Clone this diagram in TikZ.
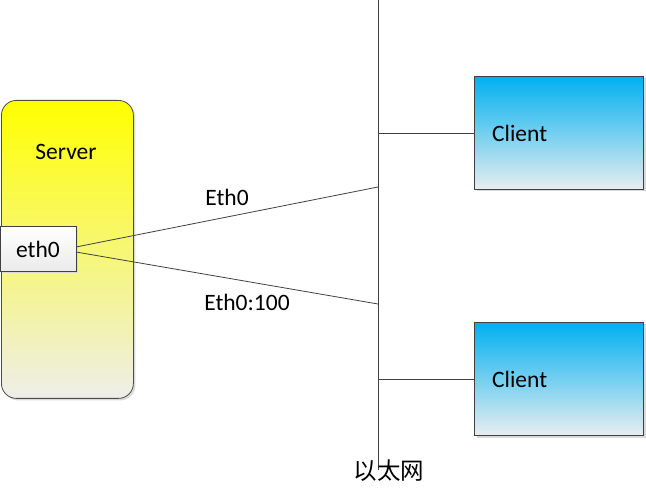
\documentclass[tikz,border=0pt]{standalone}
\usepackage{fontspec}
\setmainfont{Carlito}
\newfontfamily\cjk{Noto Sans CJK SC}
\usetikzlibrary{shadows}
\begin{document}
\begin{tikzpicture}[x=1pt,y=-1pt,
  lbl/.style={font=\fontsize{23.5}{26}\selectfont, inner sep=0pt},
  conn/.style={draw=black!75, line width=0.8pt},
  clientbox/.style={draw=black!75, line width=1pt, top color={rgb,255:red,0;green,176;blue,240}, bottom color={rgb,255:red,232;green,238;blue,240}, minimum width=169pt, minimum height=113pt, anchor=north west, inner sep=0pt, drop shadow={shadow xshift=2pt, shadow yshift=-2pt, fill=black!15, opacity=1}},
  serverbox/.style={draw=black!70, line width=0.8pt, rounded corners=15pt, top color={rgb,255:red,255;green,255;blue,0}, bottom color={rgb,255:red,238;green,238;blue,234}, minimum width=132pt, minimum height=298pt, anchor=north west, inner sep=0pt, drop shadow={shadow xshift=2pt, shadow yshift=-2pt, fill=black!15, opacity=1}},
  ethbox/.style={draw=black!75, line width=0.8pt, top color=white, bottom color=black!8, minimum width=76pt, minimum height=45pt, anchor=north west, inner sep=0pt, drop shadow={shadow xshift=1.5pt, shadow yshift=-1.5pt, fill=black!15, opacity=1}}]
\useasboundingbox (0,0) rectangle (646,489);
% server
\node[serverbox] (server) at (1,100) {};
\node[lbl] (servertxt) at (66,152) {Server};
\node[ethbox] (eth) at (0,226) {};
\node[lbl] (ethtxt) at (38,249) {eth0};
% clients
\node[clientbox] (c1) at (474,76) {};
\node[lbl, anchor=west] (c1txt) at (492,133) {Client};
\node[clientbox] (c2) at (474,322) {};
\node[lbl, anchor=west] (c2txt) at (492,379) {Client};
% bus
\coordinate (bustop) at (378,0);
\coordinate (busbot) at (378,470);
\coordinate (b1) at (378,133);
\coordinate (b2) at (378,379);
\coordinate (be1) at (378,187);
\coordinate (be2) at (378,304);
\coordinate (e1) at (76,247);
\coordinate (e2) at (76,252);
\draw[conn] (bustop) -- (busbot);
\draw[conn] (b1) -- (c1.west |- b1);
\draw[conn] (b2) -- (c2.west |- b2);
\draw[conn] (e1) -- (be1);
\draw[conn] (e2) -- (be2);
\node[lbl] (l1) at (227,197) {Eth0};
\node[lbl] (l2) at (247,302) {Eth0:100};
\node[font=\cjk\fontsize{23.5}{26}\selectfont, inner sep=0pt] (net) at (389,471) {以太网};
\end{tikzpicture}
\end{document}
